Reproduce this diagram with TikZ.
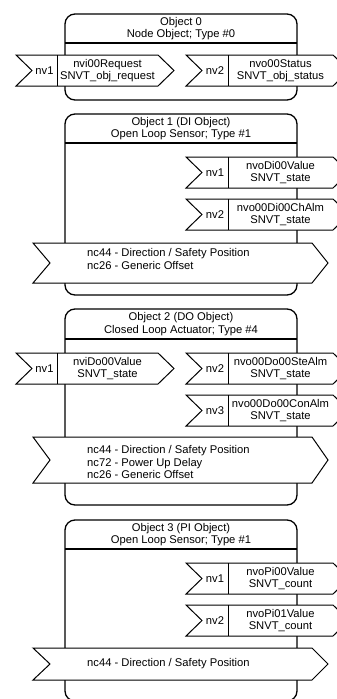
\documentclass[tikz,border=0pt]{standalone}
\usepackage{fontspec}
\setmainfont{Liberation Sans}
\tikzset{
  objbox/.style={draw, line width=1.3pt, rounded corners=10pt, fill=white},
  hdrline/.style={line width=1.3pt},
  nvshape/.style={draw, line width=1pt, fill=white, line join=miter},
  divline/.style={line width=1pt},
  txt/.style={font=\fontsize{11.2}{12.5}\selectfont, align=center, inner sep=0pt},
  txtl/.style={font=\fontsize{11.2}{12.5}\selectfont, align=left, inner sep=0pt, anchor=west},
}
% #1 name, #2 top, #3 header line, #4 bottom, #5 header text
\newcommand{\drawObj}[5]{%
  \draw[objbox] (65,#2) rectangle (297,#4);
  \draw[hdrline] (65,#3) -- (297,#3);
  \node[txt] (#1) at (181,{(#2+#3)/2}) {#5};
}
% #1 name, #2 x0, #3 x1, #4 xdiv, #5 ytop, #6 ybot, #7 label, #8 text
\newcommand{\nvArrow}[8]{%
  \draw[nvshape] (#2,#5) -- (#3,#5) -- ({#3+16},{(#5+#6)/2}) -- (#3,#6) -- (#2,#6) -- ({#2+16},{(#5+#6)/2}) -- cycle;
  \draw[divline] (#4,#5) -- (#4,#6);
  \node[txt] (#1l) at ({(#2+16+#4)/2},{(#5+#6)/2}) {#7};
  \node[txt] (#1t) at ({(#4+#3)/2},{(#5+#6)/2}) {#8};
}
% #1 name, #2 ytop, #3 ybot, #4 text centre y, #5 text
\newcommand{\ncArrow}[5]{%
  \draw[nvshape] (33,#2) -- (312,#2) -- (328,{(#2+#3)/2}) -- (312,#3) -- (33,#3) -- (50,{(#2+#3)/2}) -- cycle;
  \node[txtl] (#1) at (87,#4) {#5};
}
\begin{document}
\begin{tikzpicture}[x=1pt,y=-1pt]
\useasboundingbox (0,0) rectangle (337,699);
\clip (0,0) rectangle (337,699);
% Object 0
\drawObj{h0}{14}{43}{100}{Object 0\\Node Object; Type \#0}
\nvArrow{a0}{16}{158}{57}{55}{86}{nv1}{nvi00Request\\SNVT\_obj\_request}
\nvArrow{b0}{186}{333}{228}{55}{86}{nv2}{nvo00Status\\SNVT\_obj\_status}
% Object 1
\drawObj{h1}{114}{143}{295}{Object 1 (DI Object)\\Open Loop Sensor; Type \#1}
\nvArrow{a1}{186}{333}{228}{157}{188}{nv1}{nvoDi00Value\\SNVT\_state}
\nvArrow{b1}{186}{333}{228}{199}{230}{nv2}{nvo00Di00ChAlm\\SNVT\_state}
\ncArrow{c1}{243}{283}{259}{nc44 - Direction / Safety Position\\nc26 - Generic Offset}
% Object 2
\drawObj{h2}{309}{339}{505}{Object 2 (DO Object)\\Closed Loop Actuator; Type \#4}
\nvArrow{a2}{16}{158}{57}{353}{384}{nv1}{nviDo00Value\\SNVT\_state}
\nvArrow{b2}{186}{333}{228}{353}{384}{nv2}{nvo00Do00SteAlm\\SNVT\_state}
\nvArrow{d2}{186}{333}{228}{395}{426}{nv3}{nvo00Do00ConAlm\\SNVT\_state}
\ncArrow{c2}{437}{483}{462}{nc44 - Direction / Safety Position\\nc72 - Power Up Delay\\nc26 - Generic Offset}
% Object 3
\drawObj{h3}{520}{549}{701}{Object 3 (PI Object)\\Open Loop Sensor; Type \#1}
\nvArrow{a3}{186}{333}{228}{563}{594}{nv1}{nvoPi00Value\\SNVT\_count}
\nvArrow{b3}{186}{333}{228}{605}{636}{nv2}{nvoPi01Value\\SNVT\_count}
\ncArrow{c3}{648}{680}{664}{nc44 - Direction / Safety Position}
\end{tikzpicture}
\end{document}
